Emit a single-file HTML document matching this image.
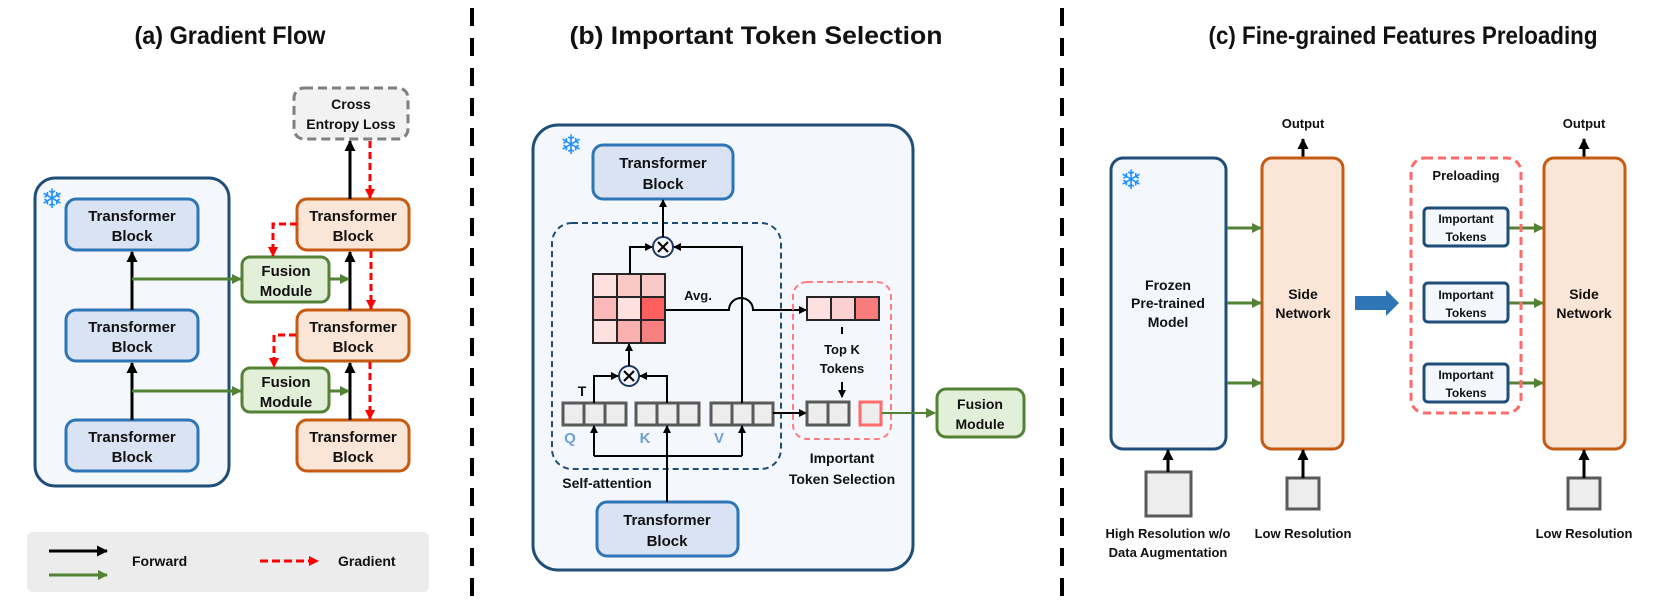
<!DOCTYPE html>
<html><head><meta charset="utf-8"><style>
html,body{margin:0;padding:0;background:#fff;}
svg{display:block;}
text{font-family:"Liberation Sans",sans-serif;font-weight:bold;fill:#111;}
.snow{font-family:"DejaVu Sans",sans-serif;fill:#1e90ff;font-weight:bold;}
</style></head><body>
<svg width="1661" height="613" viewBox="0 0 1661 613" xmlns="http://www.w3.org/2000/svg">
<defs>
<marker id="ak" markerWidth="8" markerHeight="8" refX="7" refY="4" orient="auto" markerUnits="userSpaceOnUse"><path d="M0,0 L8,4 L0,8 z" fill="#000"/></marker>
<marker id="akb" markerWidth="11" markerHeight="11" refX="10" refY="5.5" orient="auto" markerUnits="userSpaceOnUse"><path d="M0,0 L11,5.5 L0,11 z" fill="#000"/></marker>
<marker id="ag" markerWidth="10" markerHeight="10" refX="9" refY="5" orient="auto" markerUnits="userSpaceOnUse"><path d="M0,0 L10,5 L0,10 z" fill="#548235"/></marker>
<marker id="ar" markerWidth="10" markerHeight="10" refX="9" refY="5" orient="auto" markerUnits="userSpaceOnUse"><path d="M0,0 L10,5 L0,10 z" fill="#ff0000"/></marker>
</defs>

<!-- titles -->
<text x="230" y="44" font-size="25" text-anchor="middle" textLength="191" lengthAdjust="spacingAndGlyphs">(a) Gradient Flow</text>
<text x="756" y="44" font-size="25" text-anchor="middle" textLength="373" lengthAdjust="spacingAndGlyphs">(b) Important Token Selection</text>
<text x="1403" y="44" font-size="25" text-anchor="middle" textLength="389" lengthAdjust="spacingAndGlyphs">(c) Fine-grained Features Preloading</text>

<!-- dividers -->
<line x1="472" y1="8" x2="472" y2="605" stroke="#000" stroke-width="4" stroke-dasharray="18,12"/>
<line x1="1062" y1="8" x2="1062" y2="605" stroke="#000" stroke-width="4" stroke-dasharray="18,12"/>

<!-- ========== Panel A ========== -->
<rect x="294" y="88" width="114" height="51" rx="10" fill="#f2f2f2" stroke="#7f7f7f" stroke-width="3" stroke-dasharray="9,5"/>
<text x="351" y="109" font-size="14" text-anchor="middle">Cross</text>
<text x="351" y="129" font-size="14" text-anchor="middle">Entropy Loss</text>

<rect x="35" y="178" width="194" height="308" rx="20" fill="#f4f8fc" stroke="#1f4e79" stroke-width="3"/>
<text x="52" y="208" font-size="27" class="snow" text-anchor="middle">❄</text>

<rect x="66" y="199" width="132" height="51" rx="10" fill="#dae3f3" stroke="#2e75b6" stroke-width="3"/>
<text x="132" y="221" font-size="15" text-anchor="middle">Transformer</text><text x="132" y="241" font-size="15" text-anchor="middle">Block</text>
<rect x="66" y="310" width="132" height="51" rx="10" fill="#dae3f3" stroke="#2e75b6" stroke-width="3"/>
<text x="132" y="332" font-size="15" text-anchor="middle">Transformer</text><text x="132" y="352" font-size="15" text-anchor="middle">Block</text>
<rect x="66" y="420" width="132" height="51" rx="10" fill="#dae3f3" stroke="#2e75b6" stroke-width="3"/>
<text x="132" y="442" font-size="15" text-anchor="middle">Transformer</text><text x="132" y="462" font-size="15" text-anchor="middle">Block</text>

<rect x="297" y="199" width="112" height="51" rx="10" fill="#fbe5d6" stroke="#c55a11" stroke-width="3"/>
<text x="353" y="221" font-size="15" text-anchor="middle">Transformer</text><text x="353" y="241" font-size="15" text-anchor="middle">Block</text>
<rect x="297" y="310" width="112" height="51" rx="10" fill="#fbe5d6" stroke="#c55a11" stroke-width="3"/>
<text x="353" y="332" font-size="15" text-anchor="middle">Transformer</text><text x="353" y="352" font-size="15" text-anchor="middle">Block</text>
<rect x="297" y="420" width="112" height="51" rx="10" fill="#fbe5d6" stroke="#c55a11" stroke-width="3"/>
<text x="353" y="442" font-size="15" text-anchor="middle">Transformer</text><text x="353" y="462" font-size="15" text-anchor="middle">Block</text>

<rect x="242" y="257" width="87" height="45" rx="8" fill="#e2f0d9" stroke="#548235" stroke-width="3"/>
<text x="286" y="276" font-size="15" text-anchor="middle">Fusion</text><text x="286" y="296" font-size="15" text-anchor="middle">Module</text>
<rect x="242" y="368" width="87" height="44" rx="8" fill="#e2f0d9" stroke="#548235" stroke-width="3"/>
<text x="286" y="387" font-size="15" text-anchor="middle">Fusion</text><text x="286" y="407" font-size="15" text-anchor="middle">Module</text>

<g stroke="#000" stroke-width="3" fill="none" marker-end="url(#akb)">
<line x1="132" y1="310" x2="132" y2="252"/>
<line x1="132" y1="420" x2="132" y2="363"/>
<line x1="350" y1="310" x2="350" y2="252"/>
<line x1="350" y1="420" x2="350" y2="363"/>
<line x1="350" y1="199" x2="350" y2="141"/>
</g>
<g stroke="#548235" stroke-width="3" fill="none" marker-end="url(#ag)">
<line x1="132" y1="279" x2="241" y2="279"/>
<line x1="329" y1="279" x2="349" y2="279"/>
<line x1="132" y1="391" x2="241" y2="391"/>
<line x1="329" y1="391" x2="349" y2="391"/>
</g>
<g stroke="#ff0000" stroke-width="3" fill="none" stroke-dasharray="7,4" marker-end="url(#ar)">
<polyline points="297,224 273,224 273,256"/>
<polyline points="296,335 274,335 274,367"/>
<line x1="370" y1="141" x2="370" y2="198"/>
<line x1="371" y1="251" x2="371" y2="309"/>
<line x1="370" y1="362" x2="370" y2="419"/>
</g>

<!-- legend -->
<rect x="27" y="532" width="402" height="60" rx="6" fill="#ececec"/>
<line x1="49" y1="551" x2="107" y2="551" stroke="#000" stroke-width="3" marker-end="url(#akb)"/>
<line x1="49" y1="575" x2="107" y2="575" stroke="#548235" stroke-width="3" marker-end="url(#ag)"/>
<text x="132" y="566" font-size="14">Forward</text>
<line x1="260" y1="561" x2="318" y2="561" stroke="#ff0000" stroke-width="3" stroke-dasharray="8,4" marker-end="url(#ar)"/>
<text x="338" y="566" font-size="14">Gradient</text>

<!-- ========== Panel B ========== -->
<rect x="533" y="125" width="380" height="445" rx="25" fill="#f4f8fc" stroke="#1f4e79" stroke-width="3"/>
<text x="571" y="154" font-size="27" class="snow" text-anchor="middle">❄</text>
<rect x="593" y="145" width="140" height="54" rx="10" fill="#dae3f3" stroke="#2e75b6" stroke-width="3"/>
<text x="663" y="168" font-size="15" text-anchor="middle">Transformer</text><text x="663" y="189" font-size="15" text-anchor="middle">Block</text>
<rect x="597" y="502" width="141" height="54" rx="10" fill="#dae3f3" stroke="#2e75b6" stroke-width="3"/>
<text x="667" y="525" font-size="15" text-anchor="middle">Transformer</text><text x="667" y="546" font-size="15" text-anchor="middle">Block</text>

<rect x="552" y="223" width="229" height="246" rx="20" fill="none" stroke="#1f4e79" stroke-width="2" stroke-dasharray="6,4"/>
<text x="607" y="488" font-size="14" text-anchor="middle">Self-attention</text>

<g stroke="#262626" stroke-width="2">
<rect x="593" y="274" width="24" height="23" fill="#fde0e0"/><rect x="617" y="274" width="24" height="23" fill="#fbc8c8"/><rect x="641" y="274" width="24" height="23" fill="#fbc8c8"/>
<rect x="593" y="297" width="24" height="23" fill="#fbb8b8"/><rect x="617" y="297" width="24" height="23" fill="#fde0e0"/><rect x="641" y="297" width="24" height="23" fill="#ff5f5f"/>
<rect x="593" y="320" width="24" height="23" fill="#fde0e0"/><rect x="617" y="320" width="24" height="23" fill="#fbb0b0"/><rect x="641" y="320" width="24" height="23" fill="#f88080"/>
</g>
<text x="698" y="300" font-size="13" text-anchor="middle">Avg.</text>

<g stroke="#1f3864" stroke-width="2" fill="#f4f8fc">
<circle cx="663" cy="247" r="10"/><circle cx="629" cy="376" r="10"/>
</g>
<g stroke="#000" stroke-width="2">
<line x1="658" y1="242" x2="668" y2="252"/><line x1="668" y1="242" x2="658" y2="252"/>
<line x1="624" y1="371" x2="634" y2="381"/><line x1="634" y1="371" x2="624" y2="381"/>
</g>

<g stroke="#595959" stroke-width="3" fill="#ededed">
<rect x="563" y="403" width="21" height="22"/><rect x="584" y="403" width="21" height="22"/><rect x="605" y="403" width="21" height="22"/>
<rect x="636" y="403" width="21" height="22"/><rect x="657" y="403" width="21" height="22"/><rect x="678" y="403" width="21" height="22"/>
<rect x="711" y="403" width="21" height="22"/><rect x="732" y="403" width="21" height="22"/><rect x="753" y="403" width="20" height="22"/>
</g>
<text x="582" y="396" font-size="14" text-anchor="middle">T</text>
<text x="570" y="443" font-size="15" text-anchor="middle" style="fill:#6fa0d6">Q</text>
<text x="645" y="443" font-size="15" text-anchor="middle" style="fill:#6fa0d6">K</text>
<text x="719" y="443" font-size="15" text-anchor="middle" style="fill:#6fa0d6">V</text>

<g stroke="#000" stroke-width="2" fill="none" marker-end="url(#ak)">
<line x1="663" y1="237" x2="663" y2="200"/>
<polyline points="630,274 630,247 652,247"/>
<polyline points="742,403 742,247 674,247"/>
<line x1="629" y1="366" x2="629" y2="344"/>
<polyline points="594,403 594,376 618,376"/>
<polyline points="667,403 667,376 640,376"/>
<line x1="667" y1="502" x2="667" y2="426"/>
<line x1="594" y1="456" x2="594" y2="426"/>
<line x1="742" y1="456" x2="742" y2="426"/>
<path d="M666,310 L729,310 A8,8 0 0 1 753,310 L806,310"/>
<line x1="773" y1="413" x2="806" y2="413"/>
<line x1="842" y1="382" x2="842" y2="397"/>
</g>
<line x1="594" y1="456" x2="742" y2="456" stroke="#000" stroke-width="2"/>

<rect x="793" y="282" width="98" height="157" rx="14" fill="none" stroke="#ff7c80" stroke-width="2" stroke-dasharray="6,4"/>
<g stroke="#262626" stroke-width="2">
<rect x="807" y="297" width="24" height="23" fill="#fde0e0"/><rect x="831" y="297" width="24" height="23" fill="#fbd0d0"/><rect x="855" y="297" width="24" height="23" fill="#f87c7c"/>
</g>
<line x1="842" y1="327" x2="842" y2="334" stroke="#000" stroke-width="2"/>
<text x="842" y="354" font-size="13" text-anchor="middle">Top K</text>
<text x="842" y="373" font-size="13" text-anchor="middle">Tokens</text>
<g stroke="#595959" stroke-width="3" fill="#ededed">
<rect x="807" y="402" width="21" height="23"/><rect x="828" y="402" width="21" height="23"/>
</g>
<rect x="860" y="402" width="21" height="23" fill="#ededed" stroke="#ff6b6b" stroke-width="3"/>
<text x="842" y="463" font-size="14" text-anchor="middle">Important</text>
<text x="842" y="484" font-size="14" text-anchor="middle">Token Selection</text>
<line x1="882" y1="413" x2="935" y2="413" stroke="#548235" stroke-width="2" marker-end="url(#ag)"/>
<rect x="937" y="389" width="87" height="48" rx="9" fill="#e2f0d9" stroke="#548235" stroke-width="3"/>
<text x="980" y="409" font-size="14" text-anchor="middle">Fusion</text><text x="980" y="429" font-size="14" text-anchor="middle">Module</text>

<!-- ========== Panel C ========== -->
<text x="1303" y="128" font-size="13" text-anchor="middle">Output</text>
<line x1="1303" y1="158" x2="1303" y2="139" stroke="#000" stroke-width="3" marker-end="url(#akb)"/>
<rect x="1111" y="158" width="115" height="291" rx="12" fill="#f4f8fc" stroke="#1f4e79" stroke-width="3"/>
<text x="1131" y="189" font-size="27" class="snow" text-anchor="middle">❄</text>
<text x="1168" y="290" font-size="14" text-anchor="middle">Frozen</text>
<text x="1168" y="308" font-size="14" text-anchor="middle">Pre-trained</text>
<text x="1168" y="327" font-size="14" text-anchor="middle">Model</text>
<rect x="1262" y="158" width="81" height="291" rx="10" fill="#fbe5d6" stroke="#c55a11" stroke-width="3"/>
<text x="1303" y="299" font-size="14" text-anchor="middle">Side</text>
<text x="1303" y="318" font-size="14" text-anchor="middle">Network</text>
<g stroke="#548235" stroke-width="3" marker-end="url(#ag)">
<line x1="1227" y1="228" x2="1261" y2="228"/>
<line x1="1227" y1="303" x2="1261" y2="303"/>
<line x1="1227" y1="383" x2="1261" y2="383"/>
<line x1="1509" y1="228" x2="1543" y2="228"/>
<line x1="1509" y1="303" x2="1543" y2="303"/>
<line x1="1509" y1="383" x2="1543" y2="383"/>
</g>
<path d="M1355,296 L1386,296 L1386,290 L1399,303 L1386,316 L1386,310 L1355,310 z" fill="#2e75b6"/>

<rect x="1411" y="158" width="110" height="255" rx="14" fill="none" stroke="#ff6b6b" stroke-width="3" stroke-dasharray="8,5"/>
<text x="1466" y="180" font-size="13" text-anchor="middle">Preloading</text>
<g fill="#f4f8fc" stroke="#1f4e79" stroke-width="3">
<rect x="1424" y="208" width="84" height="38" rx="4"/>
<rect x="1424" y="283" width="84" height="39" rx="4"/>
<rect x="1424" y="364" width="84" height="38" rx="4"/>
</g>
<text x="1466" y="223" font-size="12" text-anchor="middle">Important</text><text x="1466" y="241" font-size="12" text-anchor="middle">Tokens</text>
<text x="1466" y="299" font-size="12" text-anchor="middle">Important</text><text x="1466" y="317" font-size="12" text-anchor="middle">Tokens</text>
<text x="1466" y="379" font-size="12" text-anchor="middle">Important</text><text x="1466" y="397" font-size="12" text-anchor="middle">Tokens</text>

<text x="1584" y="128" font-size="13" text-anchor="middle">Output</text>
<line x1="1584" y1="158" x2="1584" y2="139" stroke="#000" stroke-width="3" marker-end="url(#akb)"/>
<rect x="1544" y="158" width="81" height="291" rx="10" fill="#fbe5d6" stroke="#c55a11" stroke-width="3"/>
<text x="1584" y="299" font-size="14" text-anchor="middle">Side</text>
<text x="1584" y="318" font-size="14" text-anchor="middle">Network</text>

<g fill="#ededed" stroke="#595959" stroke-width="3">
<rect x="1146" y="472" width="45" height="44"/>
<rect x="1287" y="478" width="32" height="31"/>
<rect x="1568" y="478" width="32" height="31"/>
</g>
<g stroke="#000" stroke-width="3" marker-end="url(#akb)">
<line x1="1168" y1="472" x2="1168" y2="450"/>
<line x1="1303" y1="478" x2="1303" y2="450"/>
<line x1="1584" y1="478" x2="1584" y2="450"/>
</g>
<text x="1168" y="538" font-size="13" text-anchor="middle">High Resolution w/o</text>
<text x="1168" y="557" font-size="13" text-anchor="middle">Data Augmentation</text>
<text x="1303" y="538" font-size="13" text-anchor="middle">Low Resolution</text>
<text x="1584" y="538" font-size="13" text-anchor="middle">Low Resolution</text>
</svg>
</body></html>
